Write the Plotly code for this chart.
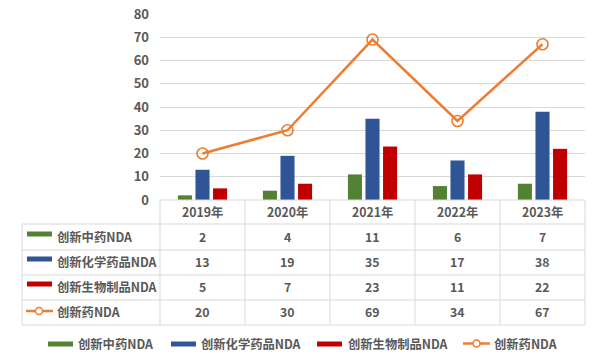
import plotly.graph_objects as go

years = ["2019年", "2020年", "2021年", "2022年", "2023年"]
tcm = [2, 4, 11, 6, 7]
chem = [13, 19, 35, 17, 38]
bio = [5, 7, 23, 11, 22]
total = [20, 30, 69, 34, 67]
names = ["创新中药NDA", "创新化学药品NDA", "创新生物制品NDA", "创新药NDA"]
colors = ["#548235", "#2F5597", "#C00000", "#ED7D31"]

W, H = 600, 364
PL, PR, PT, PB = 160, 585, 14, 200  # plot area in page pixels
FONT = "Noto Sans CJK SC"
TXT = "#595959"
GRID = "#D9D9D9"


def px(x):
    return (x - PL) / (PR - PL)


def py(y):
    return (PB - y) / (PB - PT)


fig = go.Figure()
for vals, name, col in zip([tcm, chem, bio], names[:3], colors[:3]):
    fig.add_trace(go.Bar(x=years, y=vals, name=name, marker_color=col,
                         marker_line_width=0, showlegend=False))
fig.add_trace(go.Scatter(x=years, y=total, name=names[3], mode="lines+markers",
                         line=dict(color=colors[3], width=2.5),
                         marker=dict(symbol="circle-open", size=11,
                                     line=dict(color=colors[3], width=1.6)),
                         showlegend=False))

shapes = []
annos = []


def hline(y, x0, x1):
    shapes.append(dict(type="line", xref="paper", yref="paper", x0=px(x0), x1=px(x1),
                       y0=py(y), y1=py(y), line=dict(color=GRID, width=1)))


def vline(x, y0, y1):
    shapes.append(dict(type="line", xref="paper", yref="paper", x0=px(x), x1=px(x),
                       y0=py(y0), y1=py(y1), line=dict(color=GRID, width=1)))


# table grid
hline(200, 160, 585)
for yy in [224, 250, 275, 300, 325]:
    hline(yy, 22, 585)
vline(22, 224, 325)
for xx in [160, 245, 330, 415, 500, 585]:
    vline(xx, 200, 325)

font = dict(family=FONT, size=12.3, color=TXT, weight="bold")

# header
for yr in years:
    annos.append(dict(x=yr, xref="x", y=py(212), yref="paper", text=yr, showarrow=False,
                      font=font, xanchor="center", yanchor="middle"))

row_centers = [237, 262, 287, 312]
for rc, vals, name, col, i in zip(row_centers, [tcm, chem, bio, total], names, colors, range(4)):
    if i < 3:
        shapes.append(dict(type="rect", xref="paper", yref="paper", x0=px(27), x1=px(52),
                           y0=py(rc - 5.5), y1=py(rc - 0.5), fillcolor=col, line_width=0))
    else:
        shapes.append(dict(type="line", xref="paper", yref="paper", x0=px(26), x1=px(53),
                           y0=py(rc - 1), y1=py(rc - 1), line=dict(color=col, width=2.5)))
        shapes.append(dict(type="circle", xref="paper", yref="paper", x0=px(35.5), x1=px(42.5),
                           y0=py(rc - 4.5), y1=py(rc + 2.5), fillcolor="white",
                           line=dict(color=col, width=1.5)))
    annos.append(dict(x=px(55), xref="paper", y=py(rc), yref="paper", text=name,
                      showarrow=False, font=font, xanchor="left", yanchor="middle"))
    for yr, v in zip(years, vals):
        annos.append(dict(x=yr, xref="x", y=py(rc), yref="paper", text=str(v),
                          showarrow=False, font=font, xanchor="center", yanchor="middle"))

# bottom legend
leg_y = 344
sw = [(48, 73, 76), (171, 196, 199), (317, 342, 346)]
for (a, b, t), name, col in zip(sw, names[:3], colors[:3]):
    shapes.append(dict(type="rect", xref="paper", yref="paper", x0=px(a), x1=px(b),
                       y0=py(leg_y - 2.5), y1=py(leg_y + 2.5), fillcolor=col, line_width=0))
    annos.append(dict(x=px(t), xref="paper", y=py(leg_y), yref="paper", text=name,
                      showarrow=False, font=font, xanchor="left", yanchor="middle"))
shapes.append(dict(type="line", xref="paper", yref="paper", x0=px(463), x1=px(490),
                   y0=py(leg_y - 0.5), y1=py(leg_y - 0.5), line=dict(color=colors[3], width=2.5)))
shapes.append(dict(type="circle", xref="paper", yref="paper", x0=px(473), x1=px(480),
                   y0=py(leg_y - 4), y1=py(leg_y + 3), fillcolor="white",
                   line=dict(color=colors[3], width=1.5)))
annos.append(dict(x=px(492), xref="paper", y=py(leg_y), yref="paper", text=names[3],
                  showarrow=False, font=font, xanchor="left", yanchor="middle"))

fig.update_layout(
    width=W, height=H,
    margin=dict(l=PL, r=W - PR, t=PT, b=H - PB, autoexpand=False),
    paper_bgcolor="white", plot_bgcolor="white",
    barmode="group", bargap=0.38, bargroupgap=0.2,
    shapes=shapes, annotations=annos,
    xaxis=dict(showticklabels=False, showgrid=False, zeroline=False, showline=False,
               ticks="", automargin=False),
    yaxis=dict(range=[0, 80], dtick=10, showgrid=True, gridcolor=GRID, gridwidth=1,
               zeroline=False, showline=False, ticks="", ticklabelstandoff=10,
               automargin=False, ticklabeloverflow="allow",
               tickfont=dict(family=FONT, size=13, color=TXT, weight="bold")),
    font=dict(family=FONT),
)

fig.write_html("out.html", config={"displayModeBar": False},
               post_script="document.body.style.margin='0px';")
